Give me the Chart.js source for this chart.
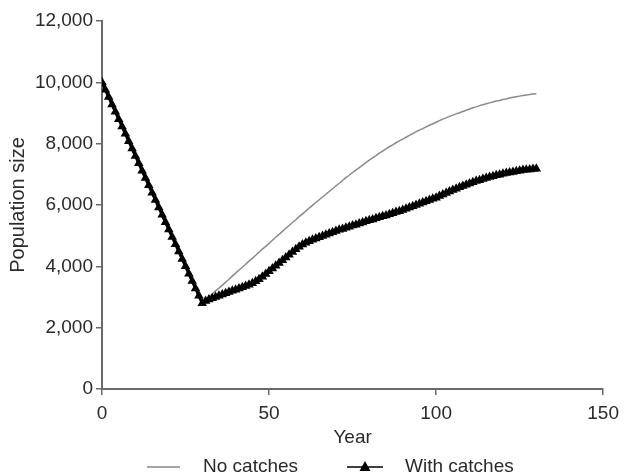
<!DOCTYPE html>
<html>
<head>
<meta charset="utf-8">
<script src="https://cdn.jsdelivr.net/npm/chart.js@4/dist/chart.umd.min.js"></script>
<style>
  html, body { margin: 0; padding: 0; background: #fff; }
  #wrap { width: 626px; height: 474px; position: relative; }
</style>
</head>
<body>
<div id="wrap"><canvas id="c" width="626" height="474"></canvas></div>
<script>
const years = [];
for (let i = 0; i <= 130; i++) years.push(i);

const noCatches = [
  10000, 9760, 9520, 9280, 9040, 8800, 8560, 8320, 8080, 7840,
  7600, 7360, 7120, 6880, 6640, 6400, 6160, 5920, 5680, 5440,
  5200, 4960, 4720, 4480, 4240, 4000, 3760, 3520, 3280, 3040,
  2800, 2900, 3000, 3100, 3200, 3290, 3380, 3480, 3580, 3680,
  3780, 3880, 3970, 4070, 4170, 4260, 4360, 4460, 4560, 4650,
  4750, 4850, 4950, 5040, 5140, 5240, 5330, 5430, 5520, 5620,
  5710, 5800, 5900, 5990, 6080, 6170, 6260, 6350, 6440, 6530,
  6620, 6710, 6800, 6890, 6970, 7060, 7140, 7220, 7300, 7380,
  7460, 7540, 7610, 7690, 7760, 7830, 7900, 7960, 8030, 8090,
  8150, 8210, 8270, 8330, 8390, 8440, 8490, 8550, 8600, 8650,
  8700, 8750, 8800, 8840, 8890, 8930, 8970, 9010, 9050, 9090,
  9130, 9170, 9200, 9240, 9270, 9300, 9330, 9360, 9390, 9410,
  9440, 9460, 9490, 9510, 9530, 9550, 9570, 9590, 9600, 9620,
  9630
];

const withCatches = [
  10000, 9760, 9520, 9280, 9040, 8800, 8560, 8320, 8080, 7840,
  7600, 7360, 7120, 6880, 6640, 6400, 6160, 5920, 5680, 5440,
  5200, 4960, 4720, 4480, 4240, 4000, 3760, 3520, 3280, 3040,
  2800, 2870, 2920, 2960, 3000, 3040, 3080, 3120, 3160, 3200,
  3240, 3280, 3320, 3360, 3400, 3450, 3510, 3580, 3660, 3750,
  3840, 3930, 4020, 4110, 4200, 4290, 4380, 4470, 4560, 4640,
  4710, 4770, 4820, 4870, 4910, 4950, 4990, 5030, 5070, 5110,
  5150, 5190, 5220, 5260, 5290, 5330, 5360, 5400, 5430, 5470,
  5500, 5530, 5570, 5600, 5630, 5660, 5700, 5730, 5770, 5800,
  5840, 5880, 5920, 5960, 6000, 6040, 6080, 6120, 6160, 6200,
  6240, 6290, 6340, 6390, 6440, 6490, 6530, 6580, 6620, 6660,
  6700, 6740, 6780, 6810, 6850, 6880, 6910, 6940, 6970, 6990,
  7020, 7040, 7060, 7080, 7100, 7120, 7140, 7150, 7160, 7170,
  7180
];

const xTicks = [0, 50, 100, 150];
const yTicks = [0, 2000, 4000, 6000, 8000, 10000, 12000];
const seriesNames = ['No catches', 'With catches'];

const FONT = "'Liberation Sans', Arial, sans-serif";
const TXT = '#2a2a2a';
const AX = '#6a6a6a';

const legendPlugin = {
  id: 'customLegend',
  afterDraw(chart) {
    const ctx = chart.ctx;
    ctx.save();
    const y = 467;
    ctx.font = '19px ' + FONT;
    ctx.fillStyle = TXT;
    ctx.textBaseline = 'middle';
    // No catches
    ctx.strokeStyle = '#888';
    ctx.lineWidth = 1.5;
    ctx.beginPath(); ctx.moveTo(147, y); ctx.lineTo(180, y); ctx.stroke();
    ctx.fillText(seriesNames[0], 203, y);
    // With catches
    ctx.strokeStyle = '#000';
    ctx.lineWidth = 1.5;
    ctx.beginPath(); ctx.moveTo(347, y); ctx.lineTo(383, y); ctx.stroke();
    ctx.fillStyle = '#000';
    ctx.beginPath();
    ctx.moveTo(365, y - 6); ctx.lineTo(370.5, y + 4); ctx.lineTo(359.5, y + 4); ctx.closePath(); ctx.fill();
    ctx.fillStyle = TXT;
    ctx.fillText(seriesNames[1], 405, y);
    ctx.restore();
  }
};

new Chart(document.getElementById('c'), {
  type: 'line',
  data: {
    labels: years,
    datasets: [
      {
        label: seriesNames[0],
        data: years.map((x, i) => ({ x: x, y: noCatches[i] })),
        borderColor: '#8a8a8a',
        borderWidth: 1.5,
        pointRadius: 0,
        tension: 0,
        order: 2
      },
      {
        label: seriesNames[1],
        data: years.map((x, i) => ({ x: x, y: withCatches[i] })),
        borderColor: '#000',
        backgroundColor: '#000',
        borderWidth: 3,
        pointStyle: 'triangle',
        pointRadius: 5.5,
        pointBorderWidth: 0,
        pointBackgroundColor: '#000',
        tension: 0,
        order: 1
      }
    ]
  },
  options: {
    responsive: false,
    animation: false,
    devicePixelRatio: 1,
    layout: { padding: { left: 0, right: 21, top: 21, bottom: 27 } },
    plugins: { legend: { display: false }, tooltip: { enabled: false } },
    scales: {
      x: {
        type: 'linear',
        min: 0, max: 150,
        afterBuildTicks(s) { s.ticks = xTicks.map(v => ({ value: v })); },
        afterFit(s) { s.height = 58; },
        grid: { drawOnChartArea: false, drawTicks: true, tickLength: 6, color: AX, lineWidth: 1.5 },
        border: { color: AX, width: 2 },
        ticks: { color: TXT, font: { family: FONT, size: 19 }, padding: 7, maxRotation: 0 },
        title: { display: true, text: 'Year', color: TXT, font: { family: FONT, size: 19, lineHeight: 1 }, padding: { top: 0, bottom: 0 } }
      },
      y: {
        min: 0, max: 12000,
        afterBuildTicks(s) { s.ticks = yTicks.map(v => ({ value: v })); },
        afterFit(s) { s.width = 102; },
        grid: { drawOnChartArea: false, drawTicks: true, tickLength: 6, color: AX, lineWidth: 1.5 },
        border: { color: AX, width: 2 },
        ticks: { color: TXT, font: { family: FONT, size: 19 }, padding: 3, callback: v => v.toLocaleString('en-US') },
        title: { display: true, text: 'Population size', color: TXT, font: { family: FONT, size: 20, lineHeight: 1 }, padding: { top: 8, bottom: 0 } }
      }
    }
  },
  plugins: [legendPlugin]
});
</script>
</body>
</html>
